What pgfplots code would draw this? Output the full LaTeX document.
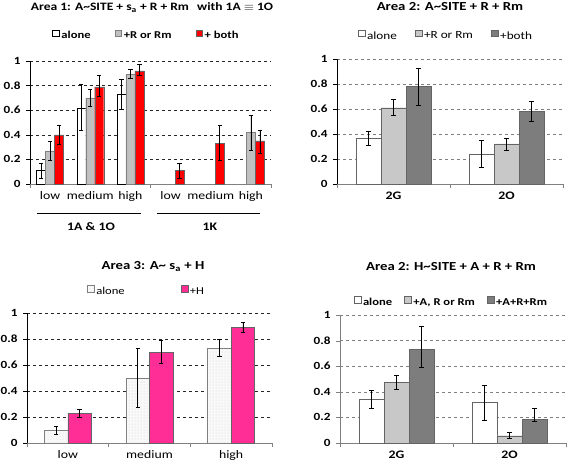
\documentclass[border=0pt]{standalone}
\usepackage{fontspec}
\setmainfont{Carlito}
\usepackage{graphicx}
\usepackage{pgfplots}
\pgfplotsset{compat=1.18}
\usetikzlibrary{patterns}
\newcommand{\W}[1]{\scalebox{1.2}[1]{#1}}
\definecolor{barred}{RGB}{255,0,0}
\definecolor{bargrey}{RGB}{192,192,192}
\definecolor{lightg}{RGB}{200,200,200}
\definecolor{darkg}{RGB}{125,125,125}
\definecolor{pinkH}{RGB}{255,45,150}
\definecolor{edgeg}{RGB}{100,100,100}
\pgfplotsset{
  panel/.style={
    scale only axis, anchor=south west,
    ybar=0pt, ymin=0, ymax=1, ytick={0,0.2,0.4,0.6,0.8,1},
    axis lines=left, axis line style={-},
    x axis line style={draw=gray, line width=0.8pt},
    y axis line style={draw=black, line width=0.8pt},
    tick align=outside, major tick length=4pt,
    ymajorgrids, grid style={dashed, black!85},
    yticklabel={\W{\pgfmathprintnumber{\tick}}},
    yticklabel style={font=\bfseries\fontsize{11}{12}\selectfont, xshift=-2pt},
    /pgf/number format/assume math mode=true,
    ytick style={draw=black},
    xtick style={draw=none},
    xticklabel style={font=\fontsize{11.5}{13}\selectfont},
    extra x tick labels={},
    extra x tick style={grid=none, xtick style={draw=gray, line width=0.8pt}},
    clip=false,
    enlargelimits=false,
    error bars/y dir=both, error bars/y explicit,
    error bars/error bar style={black, line width=0.6pt},
    error bars/error mark options={rotate=90, black, mark size=2.2pt, line width=0.6pt},
    legend style={draw=none, fill=none, legend columns=-1, anchor=center,
      font=\fontsize{10.5}{12}\selectfont},
  },
  sq/.style={legend image code/.code={\draw[##1] (0pt,-0.6pt) rectangle (6.8pt,6.2pt);}},
}
\begin{document}
\begin{tikzpicture}
\useasboundingbox (0,0) rectangle (567pt,466pt);
% ---------------- Panel 1
\begin{axis}[panel, sq, at={(30pt,282pt)}, width=241pt, height=123pt, bar width=9pt,
  xmin=-0.5, xmax=5.5, xtick={0,1,2,3,4,5},
  xticklabels={\W{low},\W{medium},\W{high},\W{low},\W{medium},\W{high}},
  extra x ticks={-0.5,2.5,5.5},
  legend style={at={(0.483,1.203)}, font=\bfseries\fontsize{10.5}{12}\selectfont,
    /tikz/every even column/.append style={column sep=22pt}}]
\addplot[fill=white, draw=black] coordinates {
  (0,0.11) += (0,0.06) -= (0,0.065)
  (1,0.62) += (0,0.19) -= (0,0.18)
  (2,0.73) += (0,0.12) -= (0,0.12)};
\addplot[fill=bargrey, draw=gray] coordinates {
  (0,0.27) +- (0,0.08)
  (1,0.70) +- (0,0.07)
  (2,0.89) += (0,0.04) -= (0,0.03)
  (5,0.42) += (0,0.14) -= (0,0.15)};
\addplot[fill=barred, draw=edgeg] coordinates {
  (0,0.40) +- (0,0.08)
  (1,0.79) += (0,0.09) -= (0,0.08)
  (2,0.92) += (0,0.05) -= (0,0.04)
  (3,0.11) += (0,0.06) -= (0,0.06)
  (4,0.33) += (0,0.15) -= (0,0.14)
  (5,0.35) += (0,0.09) -= (0,0.10)};
\legend{\W{alone},\W{+R or Rm},\W{+ both}}
\end{axis}
\draw[black, line width=0.6pt] (37pt,253pt) -- (141pt,253pt);
\draw[black, line width=0.6pt] (157pt,253pt) -- (260pt,253pt);
\node[font=\bfseries\fontsize{11.5}{13}\selectfont] at (91pt,239pt) {\W{1A \& 1O}};
\node[font=\bfseries\fontsize{11.5}{13}\selectfont] at (210pt,239pt) {\W{1K}};
\node[font=\bfseries\fontsize{11.3}{14}\selectfont, anchor=base] at (152pt,455.3pt)
  {\W{Area 1: A\textasciitilde SITE + s\textsubscript{a} + R + Rm\hspace{0.6em}with 1A $\equiv$ 1O}};
% ---------------- Panel 2
\begin{axis}[panel, sq, at={(337pt,282pt)}, width=226pt, height=125pt, bar width=25pt,
  xmin=-0.5, xmax=1.5, xtick={0,1}, xticklabels={\W{2G},\W{2O}},
  xticklabel style={font=\bfseries\fontsize{11.5}{13}\selectfont},
  extra x ticks={-0.5,0.5,1.5},
  grid style={dashed, gray},
  legend style={at={(0.482,1.184)}, font=\fontsize{11}{12}\selectfont,
    /tikz/every even column/.append style={column sep=16pt}}]
\addplot[fill=white, draw=edgeg] coordinates {
  (0,0.365) += (0,0.06) -= (0,0.055)
  (1,0.24) += (0,0.11) -= (0,0.11)};
\addplot[fill=lightg, draw=edgeg] coordinates {
  (0,0.61) += (0,0.07) -= (0,0.06)
  (1,0.32) += (0,0.045) -= (0,0.05)};
\addplot[fill=darkg, draw=edgeg] coordinates {
  (0,0.78) += (0,0.145) -= (0,0.15)
  (1,0.58) += (0,0.08) -= (0,0.08)};
\legend{\W{alone},\W{+R or Rm},\W{+both}}
\end{axis}
\node[font=\bfseries\fontsize{12.3}{14}\selectfont, anchor=base] at (450pt,455.3pt)
  {\W{Area 2: A\textasciitilde SITE + R + Rm}};
% ---------------- Panel 3
\begin{axis}[panel, sq, at={(27pt,23pt)}, width=245pt, height=130pt, bar width=23.5pt,
  xmin=-0.5, xmax=2.5, xtick={0,1,2}, xticklabels={\W{low},\W{medium},\W{high}},
  extra x ticks={-0.5,0.5,1.5,2.5},
  legend style={at={(0.488,1.163)},
    /tikz/every even column/.append style={column sep=54pt}}]
\addplot[fill=gray!5, draw=gray, postaction={pattern=dots, pattern color=gray!35}] coordinates {
  (0,0.10) += (0,0.03) -= (0,0.03)
  (1,0.50) += (0,0.23) -= (0,0.225)
  (2,0.73) += (0,0.07) -= (0,0.06)};
\addplot[fill=pinkH, draw=edgeg] coordinates {
  (0,0.23) +- (0,0.03)
  (1,0.70) += (0,0.09) -= (0,0.09)
  (2,0.89) += (0,0.04) -= (0,0.04)};
\legend{\W{alone},\W{+H}}
\end{axis}
\node[font=\bfseries\fontsize{12.3}{14}\selectfont, anchor=base] at (153pt,196.7pt)
  {\W{Area 3: A\textasciitilde{} s\textsubscript{a} + H}};
% ---------------- Panel 4
\begin{axis}[panel, sq, at={(340pt,23pt)}, width=226pt, height=128pt, bar width=25pt,
  xmin=-0.5, xmax=1.5, xtick={0,1}, xticklabels={\W{2G},\W{2O}},
  xticklabel style={font=\bfseries\fontsize{11.5}{13}\selectfont},
  extra x ticks={-0.5,0.5,1.5},
  y axis line style={draw=gray, line width=0.8pt},
  ytick style={draw=gray},
  grid style={dashed, gray},
  legend style={at={(0.493,1.098)}, font=\bfseries\fontsize{10.5}{12}\selectfont,
    /tikz/every even column/.append style={column sep=10pt}}]
\addplot[fill=white, draw=edgeg] coordinates {
  (0,0.34) += (0,0.07) -= (0,0.07)
  (1,0.315) += (0,0.135) -= (0,0.135)};
\addplot[fill=lightg, draw=edgeg] coordinates {
  (0,0.475) += (0,0.055) -= (0,0.055)
  (1,0.057) += (0,0.023) -= (0,0.017)};
\addplot[fill=darkg, draw=edgeg] coordinates {
  (0,0.73) += (0,0.18) -= (0,0.14)
  (1,0.185) += (0,0.085) -= (0,0.015)};
\legend{\W{alone},\W{+A, R or Rm},\W{+A+R+Rm}}
\end{axis}
\node[font=\bfseries\fontsize{12.3}{14}\selectfont, anchor=base] at (451pt,195.3pt)
  {\W{Area 2: H\textasciitilde SITE + A + R + Rm}};
\end{tikzpicture}
\end{document}
